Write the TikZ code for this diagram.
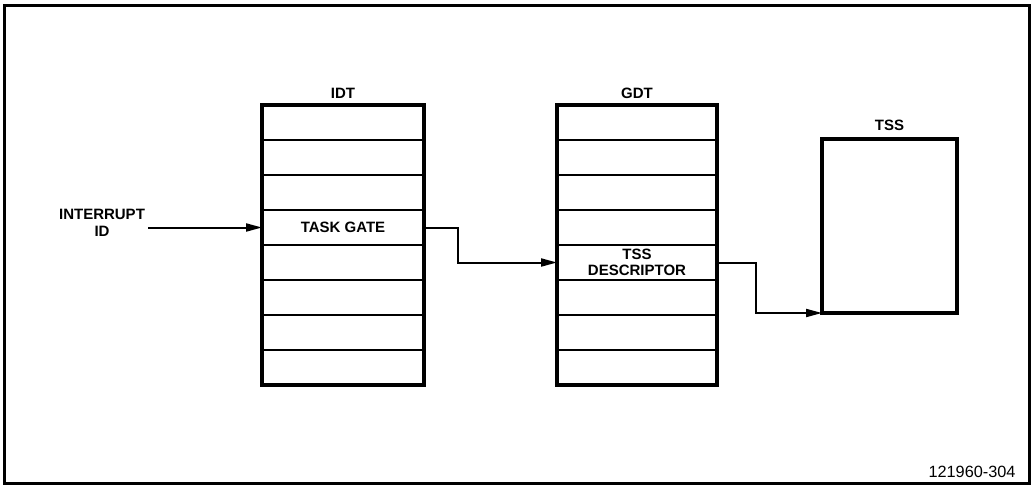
\documentclass[tikz,border=0pt]{standalone}
\usepackage{fontspec}
\setmainfont{Liberation Sans}
\usetikzlibrary{arrows.meta,fit}
\begin{document}
\begin{tikzpicture}[x=1pt,y=-1pt,
  lbl/.style={font=\fontsize{15}{17}\selectfont\bfseries, inner sep=0pt, align=center},
  tblrow/.style={draw, line width=1.8pt, minimum height=35pt, inner sep=0pt, outer sep=0pt,
    font=\fontsize{15}{15.5}\selectfont\bfseries, align=center},
  tblframe/.style={draw, line width=4pt, inner sep=0pt, outer sep=0pt},
  conn/.style={line width=2pt, -{Triangle[length=16pt,width=8pt]}}]
\useasboundingbox (0,0) rectangle (1032,487);
\draw[line width=3pt] (4,6) rectangle (1029,483);
% IDT
\foreach \i/\t in {1/{},2/{},3/{},4/TASK GATE,5/{},6/{},7/{},8/{}}
  \node[tblrow, minimum width=162pt] (idt\i) at (343,{105+35*(\i-0.5)}) {\t};
\node[tblframe, fit=(idt1)(idt8)] (idt) {};
\node[lbl] (idtl) at (343,93) {IDT};
% GDT
\foreach \i/\t in {1/{},2/{},3/{},4/{},5/{TSS\\DESCRIPTOR},6/{},7/{},8/{}}
  \node[tblrow, minimum width=160pt] (gdt\i) at (637,{105+35*(\i-0.5)}) {\t};
\node[tblframe, fit=(gdt1)(gdt8)] (gdt) {};
\node[lbl] (gdtl) at (637,93) {GDT};
% TSS
\node[tblframe, minimum width=135pt, minimum height=174pt, anchor=north west] (tss) at (822,139) {};
\node[lbl] (tssl) at (889.5,125) {TSS};
% interrupt id
\node[lbl] (intid) at (102,223) {INTERRUPT\\ID};
% connectors
\draw[conn] ([xshift=3pt]intid.east |- idt4.west) -- (idt4.west);
\draw[conn] (idt4.east) -- ++(34,0) |- (gdt5.west);
\draw[conn] (gdt5.east) -- ++(39,0) |- (tss.south west);
% figure number
\node[font=\fontsize{16.3}{18}\selectfont, inner sep=0pt] (fignum) at (972,472) {121960-304};
\end{tikzpicture}
\end{document}
